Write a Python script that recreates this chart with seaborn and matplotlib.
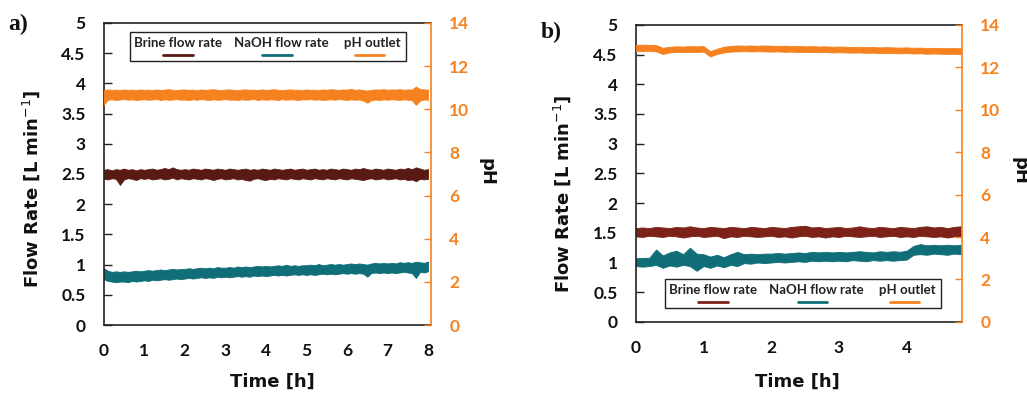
import numpy as np
import pandas as pd
import seaborn as sns
import matplotlib.pyplot as plt
from matplotlib.lines import Line2D
from matplotlib.patches import Rectangle
from matplotlib.ticker import FormatStrFormatter

sns.set_theme(style="white")
plt.rcParams['font.family'] = ['Lato', 'DejaVu Sans']

BRINE_A = '#5a1a14'
BRINE_B = '#7c2219'
NAOH = '#0f6e77'
PH = '#f5821f'

# panel a) -- lower / upper edge of each noisy trace, read every 0.1 h
time_a = [0.0, 0.1, 0.2, 0.3, 0.4, 0.5, 0.6, 0.7, 0.8, 0.9,
          1.0, 1.1, 1.2, 1.3, 1.4, 1.5, 1.6, 1.7, 1.8, 1.9,
          2.0, 2.1, 2.2, 2.3, 2.4, 2.5, 2.6, 2.7, 2.8, 2.9,
          3.0, 3.1, 3.2, 3.3, 3.4, 3.5, 3.6, 3.7, 3.8, 3.9,
          4.0, 4.1, 4.2, 4.3, 4.4, 4.5, 4.6, 4.7, 4.8, 4.9,
          5.0, 5.1, 5.2, 5.3, 5.4, 5.5, 5.6, 5.7, 5.8, 5.9,
          6.0, 6.1, 6.2, 6.3, 6.4, 6.5, 6.6, 6.7, 6.8, 6.9,
          7.0, 7.1, 7.2, 7.3, 7.4, 7.5, 7.6, 7.7, 7.8, 7.9, 8.0]
brine_a_low = [2.42, 2.41, 2.43, 2.42, 2.32, 2.41, 2.43, 2.42, 2.40, 2.43,
               2.42, 2.43, 2.41, 2.42, 2.43, 2.41, 2.42, 2.44, 2.41, 2.43,
               2.42, 2.41, 2.43, 2.42, 2.41, 2.43, 2.42, 2.40, 2.42, 2.43,
               2.41, 2.42, 2.43, 2.41, 2.42, 2.40, 2.39, 2.42, 2.43, 2.41,
               2.40, 2.42, 2.41, 2.43, 2.42, 2.41, 2.43, 2.42, 2.41, 2.43,
               2.42, 2.41, 2.43, 2.42, 2.41, 2.43, 2.42, 2.41, 2.43, 2.42,
               2.41, 2.43, 2.42, 2.41, 2.40, 2.42, 2.43, 2.41, 2.42, 2.43,
               2.41, 2.42, 2.43, 2.41, 2.42, 2.40, 2.41, 2.38, 2.42, 2.41, 2.42]
brine_a_high = [2.57, 2.58, 2.56, 2.58, 2.57, 2.59, 2.57, 2.58, 2.56, 2.58,
                2.57, 2.58, 2.59, 2.57, 2.58, 2.60, 2.58, 2.61, 2.58, 2.57,
                2.58, 2.57, 2.59, 2.58, 2.57, 2.59, 2.58, 2.57, 2.59, 2.58,
                2.57, 2.59, 2.58, 2.57, 2.58, 2.59, 2.57, 2.58, 2.57, 2.59,
                2.58, 2.57, 2.59, 2.58, 2.57, 2.58, 2.59, 2.57, 2.58, 2.59,
                2.57, 2.58, 2.59, 2.57, 2.58, 2.57, 2.59, 2.58, 2.57, 2.59,
                2.58, 2.57, 2.59, 2.58, 2.60, 2.58, 2.57, 2.59, 2.58, 2.57,
                2.59, 2.58, 2.57, 2.59, 2.58, 2.60, 2.58, 2.61, 2.59, 2.57, 2.58]
naoh_a_low = [0.76, 0.73, 0.72, 0.71, 0.72, 0.72, 0.71, 0.73, 0.72, 0.73,
              0.74, 0.73, 0.75, 0.74, 0.75, 0.76, 0.75, 0.76, 0.77, 0.76,
              0.77, 0.78, 0.77, 0.78, 0.79, 0.78, 0.79, 0.78, 0.80, 0.79,
              0.80, 0.79, 0.80, 0.81, 0.80, 0.81, 0.80, 0.82, 0.81, 0.82,
              0.81, 0.82, 0.83, 0.82, 0.83, 0.82, 0.83, 0.84, 0.83, 0.84,
              0.83, 0.84, 0.83, 0.84, 0.85, 0.84, 0.85, 0.84, 0.85, 0.86,
              0.85, 0.86, 0.85, 0.86, 0.85, 0.80, 0.86, 0.87, 0.86, 0.87,
              0.86, 0.87, 0.86, 0.87, 0.88, 0.87, 0.86, 0.78, 0.88, 0.87, 0.89]
naoh_a_high = [0.94, 0.90, 0.88, 0.89, 0.88, 0.89, 0.88, 0.89, 0.90, 0.89,
               0.90, 0.91, 0.90, 0.91, 0.92, 0.91, 0.92, 0.93, 0.92, 0.93,
               0.93, 0.94, 0.93, 0.94, 0.95, 0.94, 0.95, 0.94, 0.96, 0.95,
               0.95, 0.96, 0.95, 0.97, 0.96, 0.97, 0.96, 0.97, 0.98, 0.97,
               0.98, 0.97, 0.98, 0.99, 0.98, 1.00, 0.98, 0.99, 0.98, 0.99,
               0.99, 1.00, 0.99, 1.01, 0.99, 1.00, 1.01, 1.00, 1.01, 1.00,
               1.01, 1.02, 1.01, 1.02, 1.01, 1.00, 1.02, 1.03, 1.02, 1.03,
               1.02, 1.03, 1.02, 1.04, 1.03, 1.04, 1.03, 1.05, 1.04, 1.03, 1.05]
ph_a_low = [10.20, 10.44, 10.46, 10.43, 10.45, 10.47, 10.44, 10.46, 10.43, 10.45,
            10.46, 10.44, 10.45, 10.47, 10.43, 10.46, 10.44, 10.45, 10.47, 10.44,
            10.45, 10.43, 10.46, 10.44, 10.47, 10.45, 10.43, 10.46, 10.44, 10.45,
            10.47, 10.44, 10.45, 10.43, 10.46, 10.44, 10.45, 10.47, 10.43, 10.46,
            10.44, 10.46, 10.45, 10.43, 10.47, 10.44, 10.46, 10.45, 10.43, 10.46,
            10.45, 10.47, 10.44, 10.46, 10.43, 10.45, 10.46, 10.44, 10.47, 10.45,
            10.43, 10.46, 10.44, 10.45, 10.40, 10.30, 10.42, 10.45, 10.43, 10.46,
            10.44, 10.46, 10.45, 10.43, 10.46, 10.44, 10.42, 10.20, 10.40, 10.45, 10.44]
ph_a_high = [10.88, 10.92, 10.90, 10.91, 10.89, 10.92, 10.90, 10.91, 10.89, 10.92,
             10.90, 10.91, 10.89, 10.92, 10.90, 10.91, 10.93, 10.90, 10.89, 10.91,
             10.92, 10.90, 10.91, 10.89, 10.92, 10.90, 10.91, 10.93, 10.90, 10.89,
             10.91, 10.92, 10.90, 10.89, 10.91, 10.92, 10.90, 10.91, 10.89, 10.92,
             10.90, 10.91, 10.93, 10.90, 10.89, 10.91, 10.92, 10.90, 10.91, 10.89,
             10.92, 10.90, 10.91, 10.89, 10.92, 10.90, 10.93, 10.91, 10.90, 10.92,
             10.91, 10.94, 10.90, 10.92, 10.89, 10.86, 10.90, 10.92, 10.91, 10.93,
             10.90, 10.92, 10.91, 10.93, 10.90, 10.92, 10.91, 11.05, 10.94, 10.92, 10.91]

# panel b) -- lower / upper edge of each noisy trace, read every 0.1 h
time_b = [0.0, 0.1, 0.2, 0.3, 0.4, 0.5, 0.6, 0.7, 0.8, 0.9,
          1.0, 1.1, 1.2, 1.3, 1.4, 1.5, 1.6, 1.7, 1.8, 1.9,
          2.0, 2.1, 2.2, 2.3, 2.4, 2.5, 2.6, 2.7, 2.8, 2.9,
          3.0, 3.1, 3.2, 3.3, 3.4, 3.5, 3.6, 3.7, 3.8, 3.9,
          4.0, 4.1, 4.2, 4.3, 4.4, 4.5, 4.6, 4.7, 4.8]
brine_b_low = [1.44, 1.43, 1.45, 1.44, 1.43, 1.45, 1.44, 1.42, 1.44, 1.45,
               1.43, 1.44, 1.45, 1.41, 1.44, 1.43, 1.45, 1.44, 1.43, 1.44,
               1.45, 1.43, 1.44, 1.42, 1.44, 1.45, 1.43, 1.44, 1.42, 1.44,
               1.43, 1.45, 1.44, 1.43, 1.44, 1.45, 1.43, 1.44, 1.45, 1.43,
               1.44, 1.43, 1.45, 1.44, 1.43, 1.44, 1.42, 1.44, 1.43]
brine_b_high = [1.58, 1.59, 1.58, 1.60, 1.59, 1.58, 1.60, 1.59, 1.61, 1.59,
                1.58, 1.60, 1.59, 1.58, 1.60, 1.59, 1.58, 1.60, 1.59, 1.58,
                1.60, 1.59, 1.58, 1.60, 1.61, 1.62, 1.59, 1.60, 1.58, 1.59,
                1.60, 1.58, 1.59, 1.61, 1.59, 1.58, 1.60, 1.59, 1.58, 1.60,
                1.59, 1.58, 1.60, 1.61, 1.59, 1.60, 1.58, 1.60, 1.61]
naoh_b_low = [0.94, 0.93, 0.94, 0.96, 0.91, 0.95, 0.93, 0.96, 0.94, 0.86,
              0.94, 0.91, 0.95, 0.92, 0.96, 0.94, 0.99, 0.98, 1.00, 0.99,
              1.00, 1.01, 1.00, 1.01, 1.02, 1.01, 1.03, 1.02, 1.03, 1.02,
              1.03, 1.02, 1.04, 1.03, 1.02, 1.04, 1.03, 1.04, 1.03, 1.04,
              1.05, 1.13, 1.14, 1.13, 1.15, 1.14, 1.13, 1.15, 1.14]
naoh_b_high = [1.07, 1.08, 1.08, 1.22, 1.12, 1.17, 1.20, 1.14, 1.25, 1.15,
               1.14, 1.10, 1.13, 1.09, 1.14, 1.18, 1.14, 1.15, 1.14, 1.15,
               1.15, 1.16, 1.15, 1.16, 1.17, 1.16, 1.18, 1.17, 1.18, 1.17,
               1.18, 1.17, 1.18, 1.19, 1.18, 1.17, 1.19, 1.18, 1.19, 1.18,
               1.20, 1.28, 1.31, 1.29, 1.30, 1.29, 1.30, 1.29, 1.30]
ph_b_low = [12.77, 12.76, 12.78, 12.75, 12.63, 12.70, 12.72, 12.71, 12.73, 12.72,
            12.74, 12.51, 12.63, 12.70, 12.74, 12.75, 12.76, 12.75, 12.76, 12.75,
            12.74, 12.75, 12.73, 12.74, 12.72, 12.73, 12.72, 12.71, 12.72, 12.70,
            12.71, 12.70, 12.69, 12.70, 12.68, 12.69, 12.67, 12.68, 12.67, 12.66,
            12.67, 12.65, 12.66, 12.64, 12.65, 12.64, 12.63, 12.64, 12.62]
ph_b_high = [13.06, 13.07, 13.06, 13.05, 12.92, 12.97, 12.99, 12.98, 13.00, 12.99,
             13.00, 12.76, 12.88, 12.97, 13.01, 13.03, 13.02, 13.03, 13.02, 13.03,
             13.02, 13.01, 13.02, 13.00, 13.01, 12.99, 13.00, 12.98, 12.99, 12.97,
             12.98, 12.97, 12.96, 12.97, 12.95, 12.96, 12.94, 12.95, 12.94, 12.93,
             12.94, 12.92, 12.93, 12.91, 12.92, 12.91, 12.90, 12.91, 12.90]


def band_frame(t, low, high):
    # two rows per time stamp; seaborn's min-max interval fills the trace width
    return pd.DataFrame({'t': list(t) + list(t), 'v': list(low) + list(high)})


fig = plt.figure(figsize=(10.27, 3.95), dpi=100)
ax_a = fig.add_axes([0.101, 0.177, 0.319, 0.765])
ax_b = fig.add_axes([0.619, 0.185, 0.318, 0.752])


def trace(ax, df, col):
    sns.lineplot(data=df, x='t', y='v', ax=ax, color=col, lw=0.8,
                 errorbar=('pi', 100),
                 err_kws={'alpha': 1, 'edgecolor': col, 'linewidth': 0.6})


def draw_legend(ax, x0, y0, x1, y1, brine_col):
    w = x1 - x0
    h = y1 - y0
    ax.add_patch(Rectangle((x0, y0), w, h, transform=ax.transAxes, fill=True,
                           facecolor='white', edgecolor='#222222', lw=1.0, zorder=10))
    items = [('Brine flow rate', brine_col, 0.174, 0.12, 0.23),
             ('NaOH flow rate', NAOH, 0.549, 0.48, 0.585),
             ('pH outlet', PH, 0.878, 0.815, 0.92)]
    for label, col, tc, l0, l1 in items:
        ax.text(x0 + tc * w, y0 + 0.62 * h, label, transform=ax.transAxes,
                ha='center', va='center', fontsize=9.5, fontweight='bold',
                color='#222222', zorder=11)
        ax.add_line(Line2D([x0 + l0 * w, x0 + l1 * w], [y0 + 0.22 * h, y0 + 0.22 * h],
                           transform=ax.transAxes, color=col, lw=2, zorder=11))


def panel(ax, data, brine_col, xmax, xticks, tag, tag_y, leg_box, lab_pos):
    ax2 = ax.twinx()
    trace(ax, data['brine'], brine_col)
    trace(ax, data['naoh'], NAOH)
    trace(ax2, data['ph'], PH)

    ax.set_xlim(0, xmax)
    ax.set_ylim(0, 5)
    ax2.set_ylim(0, 14)
    ax.set_xticks(xticks)
    ax.set_yticks(np.arange(0, 5.01, 0.5))
    ax.yaxis.set_major_formatter(FormatStrFormatter('%g'))
    ax2.set_yticks(range(0, 15, 2))

    ax.tick_params(axis='both', direction='in', length=6, width=1, color='#222222',
                   labelsize=12.5, labelcolor='#111111', pad=13)
    ax2.tick_params(axis='y', direction='in', length=5, width=1, color=PH,
                    labelsize=12.5, labelcolor=PH, pad=13)
    for lab in ax.get_xticklabels() + ax.get_yticklabels() + ax2.get_yticklabels():
        lab.set_fontweight('bold')

    for sp in ['left', 'bottom', 'top']:
        ax.spines[sp].set_color('#222222')
        ax.spines[sp].set_linewidth(1.2)
        ax2.spines[sp].set_visible(False)
    ax.spines['right'].set_visible(False)
    ax2.spines['right'].set_color(PH)
    ax2.spines['right'].set_linewidth(1.2)

    lab_font = dict(family='DejaVu Sans', fontweight='bold', fontsize=13, color='#111111')
    ax.set_xlabel('Time [h]', **lab_font)
    ax.set_ylabel('Flow Rate [L min$^{-1}$]', **lab_font)
    ax2.set_ylabel('pH', rotation=270, va='center', **lab_font)
    ax.xaxis.set_label_coords(lab_pos[0], lab_pos[1])
    ax.yaxis.set_label_coords(lab_pos[2], lab_pos[3])
    ax2.yaxis.set_label_coords(lab_pos[4], lab_pos[5])

    draw_legend(ax2, *leg_box, brine_col)
    ax.text(-0.29, tag_y, tag, transform=ax.transAxes, fontsize=17, fontweight='bold',
            family='Liberation Serif', ha='left', va='center', color='#111111')


data_a = {'brine': band_frame(time_a, brine_a_low, brine_a_high),
          'naoh': band_frame(time_a, naoh_a_low, naoh_a_high),
          'ph': band_frame(time_a, ph_a_low, ph_a_high)}
data_b = {'brine': band_frame(time_b, brine_b_low, brine_b_high),
          'naoh': band_frame(time_b, naoh_b_low, naoh_b_high),
          'ph': band_frame(time_b, ph_b_low, ph_b_high)}

panel(ax_a, data_a, BRINE_A, 8.08, range(0, 9), 'a)', 0.995,
      (0.079, 0.874, 0.924, 0.970), (0.515, -0.159, -0.189, 0.45, 1.168, 0.507))
panel(ax_b, data_b, BRINE_B, 4.82, range(0, 5), 'b)', 0.975,
      (0.089, 0.047, 0.936, 0.145), (0.495, -0.172, -0.193, 0.43, 1.174, 0.507))

fig.savefig('out.png', dpi=100)
